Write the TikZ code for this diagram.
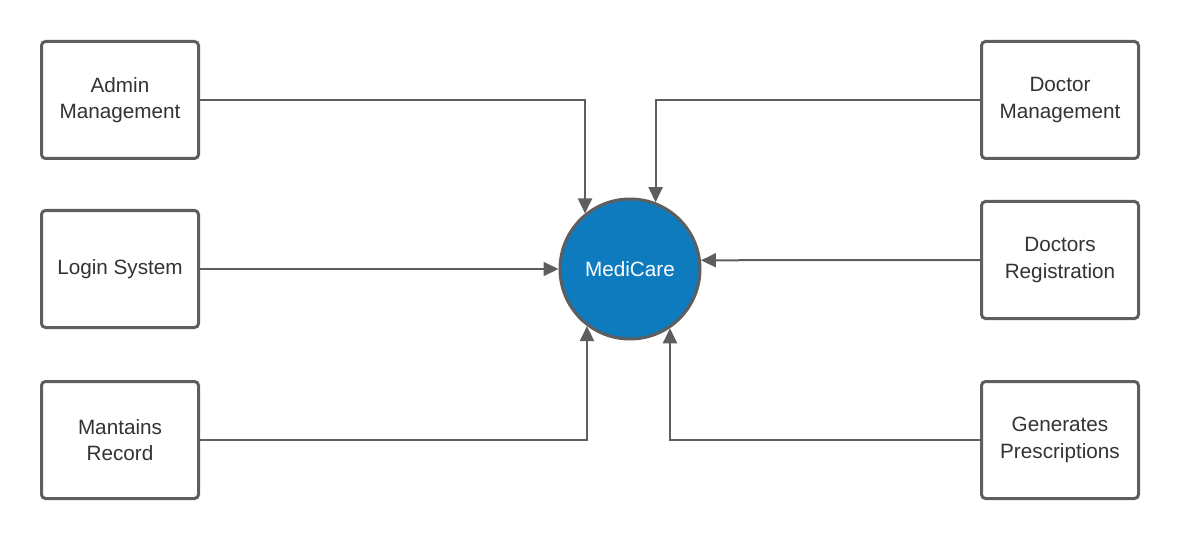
\documentclass[tikz,border=0pt]{standalone}
\usepackage{fontspec}
\setmainfont{Liberation Sans}
\usetikzlibrary{arrows.meta}
\definecolor{edgegray}{HTML}{5E5E5E}
\definecolor{txtgray}{HTML}{333333}
\definecolor{mcblue}{HTML}{0D7BBE}
\begin{document}
\begin{tikzpicture}[x=1pt,y=-1pt,
  box/.style={draw=edgegray,line width=3pt,rounded corners=4pt,fill=white,
    minimum width=157pt,minimum height=117pt,inner sep=0pt,align=center,
    text=txtgray,font=\fontsize{20.7}{26.5}\selectfont},
  hub/.style={circle,draw=edgegray,line width=3pt,fill=mcblue,minimum size=140pt,
    inner sep=0pt,text=white,font=\fontsize{20.7}{26.5}\selectfont},
  conn/.style={draw=edgegray,line width=2pt,-{Triangle[length=15pt,width=14pt]}}]
\useasboundingbox (0,0) rectangle (1180,540);
\node[hub] (mc) at (630,269) {MediCare};
\node[box] (adm) at (120,100) {Admin\\Management};
\node[box] (log) at (120,269) {Login System};
\node[box] (rec) at (120,440) {Mantains\\Record};
\node[box] (doc) at (1060,100) {Doctor\\Management};
\node[box] (reg) at (1060,260) {Doctors\\Registration};
\node[box] (pre) at (1060,440) {Generates\\Prescriptions};
\draw[conn] (adm.east) -| (mc.129);
\draw[conn] (log.east) -- (mc.west);
\draw[conn] (rec.east) -| (mc.233);
\draw[conn] (doc.west) -| (mc.69.5);
\draw[conn] (reg.west) -- (mc.7.2);
\draw[conn] (pre.west) -| (mc.304);
\end{tikzpicture}
\end{document}
